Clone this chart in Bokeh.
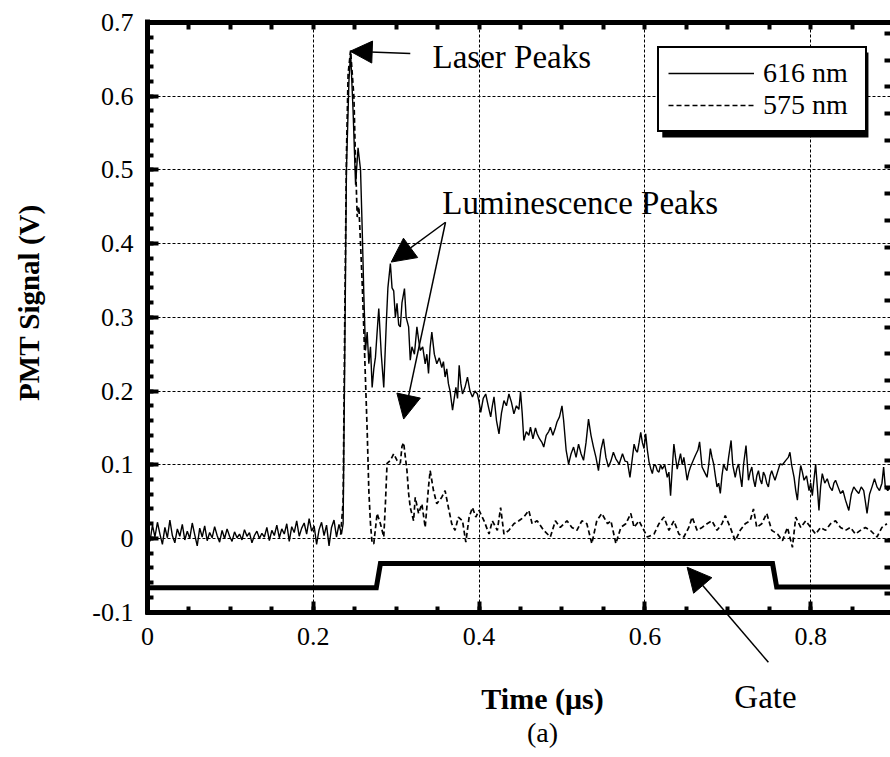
import numpy as np
from bokeh.plotting import figure
from bokeh.models import (Range1d, LinearAxis, FixedTicker, Arrow, NormalHead,
                          Label, Legend, LegendItem, BoxAnnotation)
from bokeh.embed import file_html
from bokeh.resources import INLINE

# ---------------- data ----------------
# 616 nm, pre-trigger baseline sampled every 3 ns from t = 0
base_dt = 0.003
base616 = [0.012, -0.004, 0.018, 0.002, 0.022, 0.006, -0.008, 0.015, 0.001, 0.025,
           0.004, -0.006, 0.013, 0.003, 0.019, -0.002, 0.010, 0.000, 0.021, 0.005,
           -0.010, 0.014, 0.002, 0.017, -0.003, 0.008, 0.001, 0.016, 0.004, -0.005,
           0.011, 0.000, 0.013, 0.003, -0.004, 0.009, 0.001, 0.006, -0.002, 0.012,
           0.003, 0.008, -0.006, 0.004, 0.010, 0.000, 0.007, 0.002, 0.015, -0.003,
           0.011, 0.004, 0.018, 0.001, 0.013, 0.006, 0.020, -0.004, 0.016, 0.008,
           0.024, 0.003, 0.014, 0.021, 0.006, 0.027, 0.010, 0.017, -0.008, 0.012,
           0.022, 0.004, 0.018, -0.010, 0.015, 0.025, 0.002, 0.019, 0.006]

# 616 nm after the trigger: (time us, signal V)
pts616 = [
    (0.236, 0.02), (0.238, 0.25), (0.240, 0.50), (0.243, 0.62), (0.245, 0.66),
    (0.248, 0.58), (0.251, 0.48), (0.254, 0.53), (0.257, 0.50), (0.259, 0.42),
    (0.261, 0.33), (0.263, 0.255), (0.265, 0.28), (0.267, 0.237), (0.269, 0.26),
    (0.271, 0.205), (0.273, 0.23), (0.275, 0.246), (0.277, 0.28), (0.279, 0.312),
    (0.282, 0.25), (0.285, 0.205), (0.288, 0.29), (0.290, 0.34), (0.293, 0.373),
    (0.295, 0.34), (0.297, 0.336), (0.299, 0.30), (0.301, 0.319), (0.303, 0.29),
    (0.305, 0.287), (0.307, 0.32), (0.310, 0.339), (0.312, 0.30), (0.315, 0.287),
    (0.317, 0.242), (0.319, 0.26), (0.322, 0.25), (0.325, 0.287), (0.327, 0.27),
    (0.329, 0.255), (0.332, 0.26), (0.335, 0.237), (0.337, 0.25), (0.339, 0.224),
    (0.341, 0.26), (0.343, 0.28), (0.346, 0.25), (0.349, 0.237), (0.352, 0.245),
    (0.355, 0.232), (0.357, 0.24), (0.359, 0.219), (0.361, 0.23), (0.363, 0.21),
    (0.365, 0.20), (0.368, 0.174), (0.370, 0.19), (0.372, 0.205), (0.374, 0.19),
    (0.376, 0.235), (0.378, 0.21), (0.380, 0.196), (0.383, 0.205), (0.386, 0.219),
    (0.389, 0.20), (0.392, 0.192), (0.395, 0.20), (0.398, 0.196), (0.400, 0.185),
    (0.402, 0.171), (0.405, 0.19), (0.408, 0.196), (0.411, 0.18), (0.414, 0.165),
    (0.416, 0.18), (0.418, 0.192), (0.421, 0.16), (0.424, 0.142), (0.427, 0.17),
    (0.430, 0.187), (0.433, 0.18), (0.436, 0.196), (0.439, 0.185), (0.442, 0.169),
    (0.445, 0.18), (0.448, 0.175), (0.450, 0.199), (0.452, 0.17), (0.454, 0.133),
    (0.457, 0.145), (0.460, 0.14), (0.462, 0.151), (0.465, 0.135), (0.468, 0.15),
    (0.470, 0.142), (0.473, 0.135), (0.476, 0.13), (0.478, 0.124), (0.481, 0.14),
    (0.484, 0.145), (0.486, 0.151), (0.489, 0.14), (0.492, 0.15), (0.494, 0.158),
    (0.497, 0.165), (0.500, 0.18), (0.502, 0.16), (0.505, 0.12), (0.508, 0.101),
    (0.511, 0.115), (0.514, 0.124), (0.517, 0.11), (0.520, 0.128), (0.523, 0.115),
    (0.526, 0.106), (0.529, 0.13), (0.532, 0.162), (0.535, 0.14), (0.538, 0.124),
    (0.541, 0.11), (0.544, 0.092), (0.547, 0.12), (0.550, 0.135), (0.553, 0.11),
    (0.556, 0.097), (0.559, 0.105), (0.562, 0.117), (0.565, 0.108), (0.569, 0.101),
    (0.573, 0.115), (0.576, 0.105), (0.579, 0.104), (0.582, 0.083), (0.585, 0.11),
    (0.587, 0.128), (0.589, 0.12), (0.591, 0.117), (0.593, 0.13), (0.595, 0.144),
    (0.597, 0.13), (0.599, 0.122), (0.601, 0.142), (0.603, 0.12), (0.605, 0.104),
    (0.607, 0.095), (0.609, 0.088), (0.611, 0.10), (0.613, 0.099), (0.615, 0.092),
    (0.617, 0.090), (0.619, 0.10), (0.621, 0.094), (0.624, 0.10), (0.627, 0.083),
    (0.629, 0.09), (0.631, 0.058), (0.633, 0.095), (0.635, 0.128), (0.637, 0.11),
    (0.639, 0.094), (0.641, 0.105), (0.643, 0.115), (0.645, 0.10), (0.647, 0.110),
    (0.649, 0.095), (0.651, 0.079), (0.653, 0.09), (0.655, 0.097), (0.658, 0.105),
    (0.661, 0.113), (0.664, 0.12), (0.666, 0.131), (0.669, 0.097), (0.672, 0.09),
    (0.675, 0.083), (0.677, 0.10), (0.679, 0.122), (0.681, 0.11), (0.683, 0.101),
    (0.685, 0.085), (0.687, 0.070), (0.689, 0.075), (0.691, 0.061), (0.693, 0.085),
    (0.695, 0.101), (0.697, 0.095), (0.699, 0.092), (0.701, 0.11), (0.704, 0.133),
    (0.706, 0.10), (0.709, 0.083), (0.711, 0.095), (0.713, 0.101), (0.715, 0.085),
    (0.717, 0.070), (0.719, 0.10), (0.722, 0.126), (0.725, 0.079), (0.727, 0.09),
    (0.729, 0.097), (0.731, 0.08), (0.733, 0.070), (0.735, 0.085), (0.737, 0.092),
    (0.739, 0.08), (0.741, 0.074), (0.743, 0.09), (0.745, 0.085), (0.747, 0.075),
    (0.749, 0.070), (0.751, 0.085), (0.753, 0.092), (0.755, 0.085), (0.757, 0.079),
    (0.760, 0.09), (0.763, 0.101), (0.766, 0.10), (0.770, 0.106), (0.773, 0.11),
    (0.775, 0.117), (0.777, 0.10), (0.780, 0.083), (0.782, 0.065), (0.784, 0.052),
    (0.786, 0.08), (0.788, 0.099), (0.790, 0.09), (0.792, 0.079), (0.795, 0.085),
    (0.798, 0.065), (0.800, 0.075), (0.802, 0.058), (0.804, 0.08), (0.806, 0.101),
    (0.808, 0.07), (0.810, 0.038), (0.812, 0.07), (0.814, 0.088), (0.817, 0.075),
    (0.820, 0.081), (0.823, 0.07), (0.826, 0.065), (0.828, 0.075), (0.830, 0.079),
    (0.833, 0.07), (0.836, 0.061), (0.839, 0.065), (0.842, 0.052), (0.844, 0.045),
    (0.846, 0.038), (0.849, 0.06), (0.852, 0.070), (0.855, 0.065), (0.858, 0.061),
    (0.861, 0.07), (0.864, 0.065), (0.866, 0.05), (0.868, 0.034), (0.871, 0.06),
    (0.874, 0.070), (0.877, 0.081), (0.880, 0.07), (0.883, 0.065), (0.886, 0.075),
    (0.888, 0.097), (0.890, 0.07), (0.893, 0.065), (0.896, 0.07),
]

# 575 nm: (time us, signal V)
pts575 = [
    (0.233, 0.005), (0.236, 0.05), (0.238, 0.30), (0.240, 0.52), (0.242, 0.63),
    (0.245, 0.662), (0.249, 0.599), (0.251, 0.509), (0.253, 0.436), (0.255, 0.45),
    (0.257, 0.40), (0.259, 0.346), (0.261, 0.282), (0.263, 0.214), (0.265, 0.147),
    (0.267, 0.065), (0.269, 0.02), (0.271, -0.007), (0.273, -0.007), (0.277, 0.034),
    (0.281, 0.02), (0.285, 0.002), (0.287, 0.047), (0.289, 0.102), (0.293, 0.106),
    (0.297, 0.115), (0.301, 0.106), (0.305, 0.102), (0.307, 0.125), (0.309, 0.13),
    (0.313, 0.092), (0.315, 0.061), (0.317, 0.042), (0.321, 0.024), (0.323, 0.056),
    (0.327, 0.034), (0.331, 0.047), (0.335, 0.015), (0.339, 0.070), (0.341, 0.092),
    (0.345, 0.065), (0.349, 0.047), (0.355, 0.056), (0.359, 0.065), (0.363, 0.042),
    (0.367, 0.020), (0.371, 0.011), (0.375, 0.029), (0.380, 0.024), (0.384, -0.005),
    (0.388, 0.029), (0.392, 0.042), (0.396, 0.029), (0.400, 0.038), (0.406, 0.024),
    (0.412, 0.006), (0.416, 0.024), (0.422, 0.011), (0.426, 0.042), (0.430, 0.006),
    (0.436, 0.011), (0.442, 0.020), (0.448, 0.024), (0.454, 0.029), (0.460, 0.038),
    (0.464, 0.020), (0.470, 0.024), (0.478, 0.011), (0.486, 0.002), (0.492, 0.024),
    (0.498, 0.015), (0.506, 0.024), (0.512, 0.015), (0.518, 0.011), (0.524, 0.024),
    (0.530, 0.020), (0.536, -0.007), (0.542, 0.024), (0.548, 0.034), (0.555, 0.020),
    (0.559, 0.024), (0.565, -0.007), (0.571, 0.015), (0.577, 0.020), (0.583, 0.034),
    (0.587, 0.015), (0.593, 0.024), (0.597, 0.015), (0.603, 0.002), (0.611, 0.006),
    (0.617, 0.020), (0.623, 0.029), (0.629, 0.011), (0.635, 0.024), (0.641, 0.006),
    (0.647, 0.002), (0.653, 0.015), (0.657, 0.029), (0.663, 0.011), (0.669, 0.015),
    (0.675, 0.020), (0.681, 0.024), (0.687, 0.011), (0.693, 0.020), (0.697, 0.031),
    (0.703, 0.015), (0.709, -0.003), (0.715, 0.011), (0.721, 0.020), (0.727, 0.024),
    (0.731, 0.040), (0.735, 0.015), (0.741, 0.020), (0.747, 0.034), (0.753, 0.011),
    (0.760, 0.006), (0.766, -0.003), (0.772, 0.015), (0.778, -0.012), (0.782, 0.029),
    (0.788, 0.015), (0.794, 0.024), (0.800, 0.015), (0.806, 0.006), (0.812, 0.015),
    (0.818, 0.011), (0.824, 0.020), (0.830, 0.024), (0.836, 0.015), (0.842, 0.011),
    (0.848, 0.015), (0.854, 0.006), (0.860, 0.011), (0.866, 0.015), (0.872, 0.011),
    (0.880, 0.002), (0.886, 0.015), (0.892, 0.020),
]

# gate signal
gate_t = [0.0, 0.276, 0.281, 0.754, 0.759, 0.896]
gate_v = [-0.067, -0.067, -0.034, -0.034, -0.066, -0.066]

x_ticks = [0, 0.2, 0.4, 0.6, 0.8]
y_ticks = [-0.1, 0, 0.1, 0.2, 0.3, 0.4, 0.5, 0.6, 0.7]
x_minor = [i * 0.05 for i in range(19)]
y_minor = [-0.1 + i * 0.02 for i in range(41)]
right_minor = [0.685 - i * 0.0362 for i in range(22)]
x_labels = {0: "0", 0.2: "0.2", 0.4: "0.4", 0.6: "0.6", 0.8: "0.8"}
y_labels = {-0.1: "-0.1", 0: "0", 0.1: "0.1", 0.2: "0.2", 0.3: "0.3",
            0.4: "0.4", 0.5: "0.5", 0.6: "0.6", 0.7: "0.7"}

# ---------------- build ----------------
t616 = [i * base_dt for i in range(len(base616))] + [q[0] for q in pts616]
v616 = list(base616) + [q[1] for q in pts616]
t575 = [q[0] for q in pts575]
v575 = [q[1] for q in pts575]

SERIF = "Liberation Serif"
X0, X1 = 0.0, 0.8963          # visible part of the time axis
# the frame covers the whole canvas; the box axes are pinned at fixed locations
p = figure(width=890, height=757, x_range=Range1d(-0.17732, X1),
           y_range=Range1d(-0.29715, 0.72985),
           output_backend="svg", toolbar_location=None, x_axis_location=None,
           y_axis_location=None, min_border=0, min_border_left=0, min_border_right=0,
           min_border_top=0, min_border_bottom=0, outline_line_color=None,
           background_fill_color="white", border_fill_color="white")

xt = FixedTicker(ticks=x_ticks, minor_ticks=x_minor)
yt = FixedTicker(ticks=y_ticks, minor_ticks=y_minor)


def style_axis(ax):
    ax.axis_line_width = 5
    ax.axis_line_color = "black"
    ax.major_tick_line_width = 4
    ax.minor_tick_line_width = 4
    ax.major_tick_line_color = "black"
    ax.minor_tick_line_color = "black"
    ax.major_tick_in = 11
    ax.major_tick_out = 0
    ax.minor_tick_in = 6
    ax.minor_tick_out = 0
    ax.major_label_text_font = SERIF
    ax.major_label_text_font_size = "26px"
    ax.major_label_text_color = "black"


xb = LinearAxis(ticker=xt, major_label_overrides=x_labels, fixed_location=-0.1,
                bounds=(-0.003, X1))
style_axis(xb)
xb.major_label_standoff = 16
p.add_layout(xb, "below")

yl = LinearAxis(ticker=yt, major_label_overrides=y_labels, fixed_location=0.0,
                bounds=(-0.1034, 0.7034))
style_axis(yl)
yl.major_label_standoff = 14
p.add_layout(yl, "left")

xtop = LinearAxis(ticker=FixedTicker(ticks=[], minor_ticks=x_minor), fixed_location=0.7,
                  bounds=(-0.003, X1))
style_axis(xtop)
xtop.minor_tick_in = 7
xtop.major_label_standoff = 0
p.add_layout(xtop, "above")

yr = LinearAxis(ticker=FixedTicker(ticks=[], minor_ticks=right_minor))
style_axis(yr)
yr.axis_line_alpha = 0
yr.major_label_standoff = 0
p.add_layout(yr, "right")

p.xgrid.ticker = xt
p.ygrid.ticker = yt
for g in (p.xgrid, p.ygrid):
    g.grid_line_color = "black"
    g.grid_line_dash = "3 2"
    g.grid_line_width = 1
if "cross_bounds" in p.xgrid.properties():
    p.xgrid.cross_bounds = (-0.1, 0.7)
    p.ygrid.cross_bounds = (X0, X1)

r616 = p.line(t616, v616, line_color="black", line_width=1.4)
r575 = p.line(t575, v575, line_color="black", line_width=1.7, line_dash="5 3")
p.line(gate_t, gate_v, line_color="black", line_width=5, line_join="miter")

# legend with drop shadow
shadow = BoxAnnotation(left=0.621, right=0.8697, top=0.6594, bottom=0.544,
                       fill_color="black", fill_alpha=1, line_alpha=0)
p.add_layout(shadow)
legend = Legend(items=[LegendItem(label="616 nm", renderers=[r616]),
                       LegendItem(label="575 nm", renderers=[r575])],
                location=(657, 625), label_text_font=SERIF, label_text_font_size="28px",
                label_text_color="black", glyph_width=86, glyph_height=28,
                label_height=28, label_width=93, spacing=0, padding=9,
                label_standoff=9, border_line_color="black", border_line_width=2.5,
                border_line_alpha=1, background_fill_color="white",
                background_fill_alpha=1, margin=0)
p.add_layout(legend)

head = dict(fill_color="black", line_color="black")
p.add_layout(Arrow(end=NormalHead(size=22, **head), x_start=0.317, y_start=0.658,
                   x_end=0.2445, y_end=0.661, line_width=1.5))
p.add_layout(Arrow(end=NormalHead(size=24, **head), x_start=0.3595, y_start=0.429,
                   x_end=0.294, y_end=0.375, line_width=1.5))
p.add_layout(Arrow(end=NormalHead(size=24, **head), x_start=0.3595, y_start=0.429,
                   x_end=0.309, y_end=0.162, line_width=1.5))
p.add_layout(Arrow(end=NormalHead(size=24, **head), x_start=0.749, y_start=-0.168,
                   x_end=0.651, y_end=-0.039, line_width=1.5))

lab = dict(text_font=SERIF, text_font_size="33px", text_color="black",
           text_baseline="alphabetic")
p.add_layout(Label(x=0.3438, y=0.6536, text="Laser Peaks", **lab))
p.add_layout(Label(x=0.3556, y=0.4546, text="Luminescence Peaks", **lab))
p.add_layout(Label(x=0.7455, y=-0.2144, text="Gate", text_align="center", **lab))

p.add_layout(Label(x=0.4765, y=-0.2171, text="Time (μs)", text_align="center",
                   text_font=SERIF, text_font_size="30px", text_font_style="bold",
                   text_color="black", text_baseline="alphabetic"))
p.add_layout(Label(x=0.4765, y=-0.2632, text="(a)", text_align="center",
                   text_font=SERIF, text_font_size="28px", text_color="black",
                   text_baseline="alphabetic"))
p.add_layout(Label(x=-0.1435, y=0.320, text="PMT Signal (V)", angle=np.pi / 2,
                   text_align="center", text_baseline="middle", text_font=SERIF,
                   text_font_size="29px", text_font_style="bold", text_color="black"))

open("out.html", "w").write(file_html(p, INLINE))
